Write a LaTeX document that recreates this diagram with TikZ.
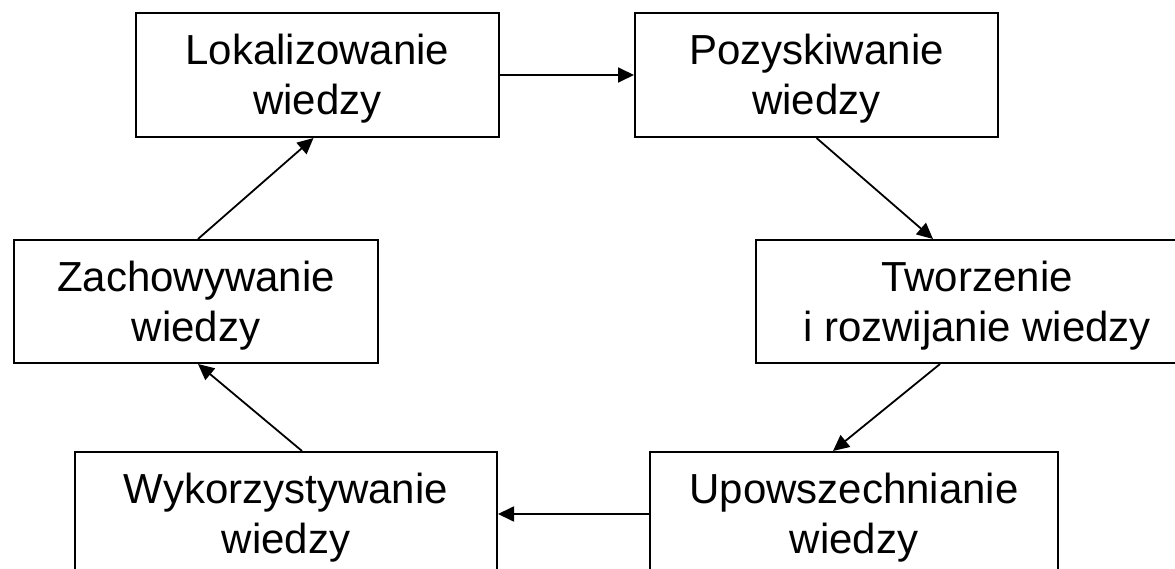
\documentclass[tikz,border=0pt]{standalone}
\usepackage{fontspec}
\setmainfont{Liberation Sans}
\usetikzlibrary{arrows.meta}
\newcommand{\toppad}{\rule{0pt}{38.5pt}}
\begin{document}
\begin{tikzpicture}[x=1pt,y=-1pt,
  stagebox/.style={draw=black,line width=2pt,inner sep=0pt,align=center,
    font=\fontsize{42}{50}\selectfont,minimum height=124pt},
  flow/.style={line width=1.8pt,-{Triangle[length=16pt,width=15pt]}}]
\useasboundingbox (0,0) rectangle (1175,569);
\clip (0,0) rectangle (1175,569);
\node[stagebox,minimum width=363pt] (lok) at (317.5,75) {\toppad Lokalizowanie\\wiedzy};
\node[stagebox,minimum width=363pt] (poz) at (816.5,75) {\toppad Pozyskiwanie\\wiedzy};
\node[stagebox,minimum width=364pt,minimum height=123pt] (zach) at (196,301.5) {\toppad Zachowywanie\\wiedzy};
\node[stagebox,minimum width=442pt,minimum height=123pt] (tw) at (977,301.5) {\toppad Tworzenie\\i rozwijanie wiedzy};
\node[stagebox,minimum width=422pt] (wyk) at (286,514) {\toppad Wykorzystywanie\\wiedzy};
\node[stagebox,minimum width=408pt] (up) at (854,514) {\toppad Upowszechnianie\\wiedzy};
\draw[flow] (lok.east) -- (poz.west);
\draw[flow] (poz.south) -- ([xshift=-44pt]tw.north);
\draw[flow] ([xshift=-37pt]tw.south) -- ([xshift=-21pt]up.north);
\draw[flow] (up.west) -- (wyk.east);
\draw[flow] ([xshift=16pt]wyk.north) -- ([xshift=2pt]zach.south);
\draw[flow] ([xshift=2pt]zach.north) -- ([xshift=-4pt]lok.south);
\end{tikzpicture}
\end{document}
